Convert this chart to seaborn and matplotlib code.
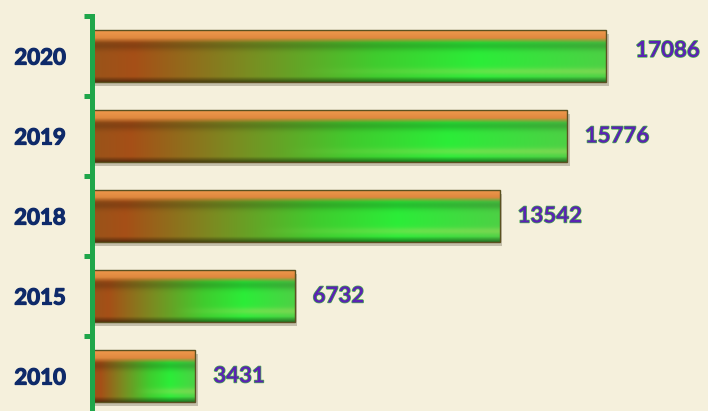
import numpy as np
import pandas as pd
import matplotlib
matplotlib.use('Agg')
import matplotlib.pyplot as plt
import matplotlib.patheffects as pe
import seaborn as sns

# chart data
years = ['2020', '2019', '2018', '2015', '2010']
counts = [17086, 15776, 13542, 6732, 3431]

df = pd.DataFrame({'year': years, 'count': counts})

BG = '#f5f0dc'
AXIS_GREEN = '#1fa64a'
YEAR_COLOR = '#0e2a6a'
VALUE_COLOR = '#5a22b4'

sns.set_theme(style='white')
plt.rcParams['font.family'] = ['Lato', 'DejaVu Sans']


def bar_gradient(h=64, w=256):
    # horizontal body colour: rusty orange on the left, bright green further right
    stops = np.array([0.0, 0.08, 0.30, 0.55, 0.75, 1.0])
    cols = np.array([
        [0.60, 0.33, 0.10],
        [0.65, 0.31, 0.09],
        [0.48, 0.55, 0.13],
        [0.25, 0.80, 0.18],
        [0.17, 0.93, 0.22],
        [0.30, 0.82, 0.27],
    ])
    t = np.linspace(0, 1, w)
    body = np.stack([np.interp(t, stops, cols[:, k]) for k in range(3)], axis=-1)
    img = np.repeat(body[None, :, :], h, axis=0)

    s = np.linspace(0, 1, h)[:, None, None]
    # orange top bevel, lighter at the very top, fading softly into the body
    bevel = np.clip((0.24 - s) / 0.09, 0, 1)
    orange = np.array([0.94, 0.60, 0.30]) * (1 - 3 * s) + np.array([0.80, 0.46, 0.18]) * 3 * s
    orange = np.clip(orange, 0, 1)
    img = img * (1 - bevel) + orange * bevel
    # slight shade just below the bevel
    dark = np.exp(-((s - 0.30) / 0.09) ** 2)
    img = img * (1 - 0.18 * dark)
    # light reflection near the bottom on the right side
    light = np.exp(-((s - 0.80) / 0.07) ** 2) * np.clip((t[None, :, None] - 0.4) / 0.4, 0, 1)
    img = img * (1 - 0.5 * light) + np.array([0.62, 0.86, 0.36]) * 0.5 * light
    # dark bottom edge
    bot = np.clip((s - 0.9) / 0.1, 0, 1)
    img = img * (1 - 0.45 * bot)
    return np.clip(img, 0, 1)


fig = plt.figure(figsize=(7.08, 4.11), dpi=100)
fig.patch.set_facecolor(BG)
ax = fig.add_axes([92 / 708, -5 / 411, 616 / 708, 400 / 411])
ax.set_facecolor(BG)

sns.barplot(data=df, x='count', y='year', order=years, orient='h',
            color='#7a8a30', width=0.65, ax=ax)

grad = bar_gradient()
for patch in ax.patches:
    x0, y0 = patch.get_x(), patch.get_y()
    w, h = patch.get_width(), patch.get_height()
    patch.set_facecolor('none')
    patch.set_edgecolor('#5b5120')
    patch.set_linewidth(1.0)
    patch.set_zorder(2)
    # soft drop shadow
    shadow = plt.Rectangle((x0, y0), w, h, transform=ax.transData,
                           facecolor='none', edgecolor='none', zorder=1.5)
    shadow.set_path_effects([pe.SimplePatchShadow(offset=(2, -3), shadow_rgbFace='#8a8470', alpha=0.45)])
    ax.add_patch(shadow)
    im = ax.imshow(grad, extent=(x0, x0 + w, y0 + h, y0), aspect='auto',
                   interpolation='bilinear', zorder=1.8)
    im.set_clip_path(patch)

ax.set_ylim(4.5, -0.5)
ax.set_xlim(0, 20470)

labels = ax.bar_label(ax.containers[0], labels=[str(c) for c in counts], padding=13,
                      fontsize=16, fontweight='bold', color=VALUE_COLOR)
for t in labels:
    t.set_path_effects([pe.withStroke(linewidth=1.0, foreground='#48b04c')])
# the top value sits a little further out and higher in the original
labels[0].xyann = (21, 4)

ax.set_xlabel('')
ax.set_ylabel('')
ax.set_xticks([])

for side in ['top', 'right', 'bottom']:
    ax.spines[side].set_visible(False)
ax.spines['left'].set_color(AXIS_GREEN)
ax.spines['left'].set_linewidth(3.6)
ax.spines['left'].set_zorder(5)

ax.tick_params(axis='y', which='major', length=0, pad=19, labelsize=16,
               labelcolor=YEAR_COLOR)
for lab in ax.get_yticklabels():
    lab.set_fontweight('bold')
    lab.set_path_effects([pe.withStroke(linewidth=0.9, foreground=YEAR_COLOR)])
ax.set_yticks(np.arange(-0.5, 5.0, 1.0), minor=True)
ax.tick_params(axis='y', which='minor', left=True, direction='out', length=6,
               width=3.6, color=AXIS_GREEN)

fig.savefig('out.png', dpi=100, facecolor=BG)
